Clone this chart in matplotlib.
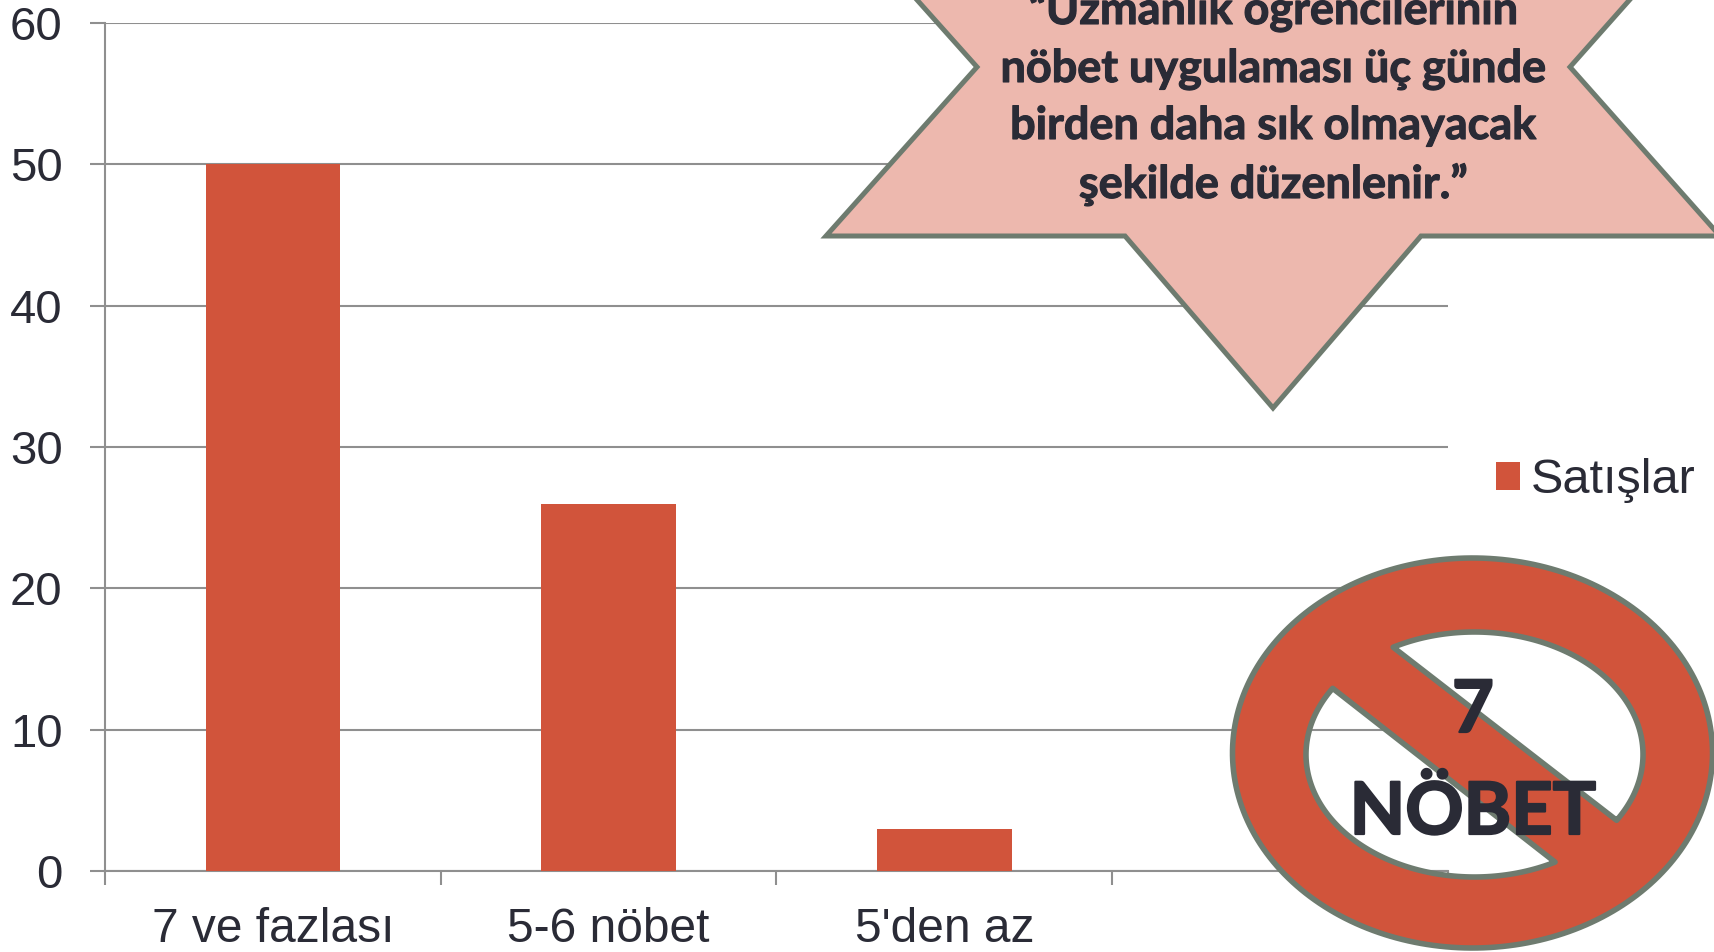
import numpy as np
import matplotlib
matplotlib.use("Agg")
import matplotlib.pyplot as plt
import matplotlib.patheffects as pe
from matplotlib.path import Path
from matplotlib.patches import PathPatch, Polygon

categories = ["7 ve fazlası", "5-6 nöbet", "5'den az", ""]
values = [50, 26, 3, np.nan]
series_name = "Satışlar"
y_ticks = [0, 10, 20, 30, 40, 50, 60]
star_lines = ["“Uzmanlık öğrencilerinin", "nöbet uygulaması üç günde",
              "birden daha sık olmayacak", "şekilde düzenlenir.”"]
badge_lines = ["7", "NÖBET"]

RED = "#D1543B"
GRID = "#8F8F8F"
INK = "#2A2B36"
EDGE = "#6E7B6F"
PINK = "#EDB8AE"
W, H = 1715, 952

fig = plt.figure(figsize=(W / 100, H / 100), dpi=100, facecolor="white")
ax = fig.add_axes([105 / W, 1 - 871 / H, (1448 - 105) / W, (871 - 23) / H])
x = np.arange(len(categories))
ax.bar(x, values, width=0.4, color=RED, label=series_name, zorder=3)
ax.set_xlim(-0.5, len(categories) - 0.5)
ax.set_ylim(0, 60)
ax.set_yticks(y_ticks)
ax.set_xticks(x)
ax.set_xticklabels(categories, family="Liberation Sans", fontsize=34.5, color=INK)
ax.set_xticks(np.arange(len(categories) + 1) - 0.5, minor=True)
ax.tick_params(axis="x", which="major", length=0, pad=26)
ax.tick_params(axis="x", which="minor", length=10, width=1.5, color=GRID)
ax.tick_params(axis="y", length=11, width=1.5, color=GRID, pad=19.5, labelsize=34, labelcolor=INK)
for lab in ax.get_yticklabels():
    lab.set_family("Liberation Sans")
ax.grid(axis="y", color=GRID, lw=1.5, zorder=1)
ax.set_axisbelow(True)
for s in ["top", "right"]:
    ax.spines[s].set_visible(False)
for s in ["left", "bottom"]:
    ax.spines[s].set_color(GRID)
    ax.spines[s].set_linewidth(1.5)

leg = ax.legend(loc="center left", bbox_to_anchor=(1496 / W, 1 - 480.5 / H),
                bbox_transform=fig.transFigure, frameon=False, borderpad=0, borderaxespad=0,
                handlelength=0.5, handleheight=0.5, handletextpad=0.22,
                prop={"family": "Liberation Sans", "size": 35}, labelcolor=INK)

# Overlay shapes, in figure pixels
ov = fig.add_axes([0, 0, 1, 1], facecolor="none")
ov.set_xlim(0, W)
ov.set_ylim(H, 0)
ov.axis("off")

cx = 1273
star = [(826, -102), (1125, -102), (cx, -274), (1421, -102), (1720, -102), (1570, 67),
        (1720, 236), (1421, 236), (cx, 408), (1125, 236), (826, 236), (977, 67)]
ov.add_patch(Polygon(star, closed=True, facecolor=PINK, edgecolor=EDGE, lw=3.6, joinstyle="miter"))
for line, base in zip(star_lines, [24, 82, 139, 198]):
    ov.text(cx, base, line, family="Lato", weight="bold", fontsize=32.4, color=INK,
            ha="center", va="baseline",
            path_effects=[pe.withStroke(linewidth=0.8, foreground=INK)])

# Prohibition badge
ocx, ocy, oa, ob = 1472.5, 753, 240, 195
icx, icy, ia, ib = 1474.5, 754.5, 168.5, 122.5

def arc(p0, p1):
    t0 = np.arctan2((p0[1] - icy) / ib, (p0[0] - icx) / ia)
    t1 = np.arctan2((p1[1] - icy) / ib, (p1[0] - icx) / ia)
    if t1 < t0:
        t1 += 2 * np.pi
    t = np.linspace(t0, t1, 120)
    return np.column_stack([icx + ia * np.cos(t), icy + ib * np.sin(t)])

t = np.linspace(2 * np.pi, 0, 240)
outer = np.column_stack([ocx + oa * np.cos(t), ocy + ob * np.sin(t)])
hole1 = arc((1393, 647), (1616, 820))
hole2 = arc((1555, 862), (1332, 688))
verts, codes = [], []
for ring in (outer, hole1, hole2):
    verts += ring.tolist() + [ring[0].tolist()]
    codes += [Path.MOVETO] + [Path.LINETO] * (len(ring) - 1) + [Path.CLOSEPOLY]
ov.add_patch(PathPatch(Path(verts, codes), facecolor=RED, edgecolor=EDGE, lw=4,
                       joinstyle="round", clip_on=True))
for line, base in zip(badge_lines, [732, 834]):
    ov.text(1473, base, line, family="Lato", weight="bold", fontsize=52, color=INK,
            ha="center", va="baseline",
            path_effects=[pe.withStroke(linewidth=1.6, foreground=INK)])

fig.savefig("out.png", dpi=100, facecolor="white")
